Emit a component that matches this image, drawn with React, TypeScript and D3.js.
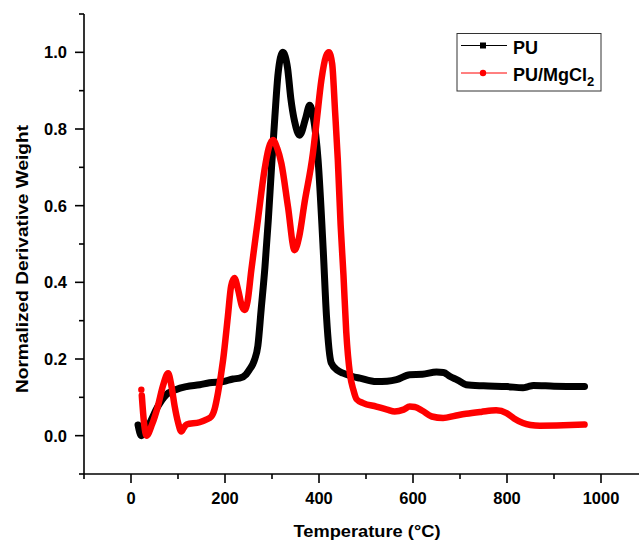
import React from "react";
import * as d3 from "d3";

// PU (black)
const puTemp = [15, 22, 30, 40, 57, 75, 95, 118, 146, 167, 196, 217, 231, 245, 252, 262, 270, 277, 285, 292, 299, 306, 313, 323, 333, 340, 348, 359, 372, 380, 388, 398, 409, 416, 426, 440, 451, 470, 487, 522, 545, 565, 593, 620, 650, 665, 678, 695, 713, 750, 800, 834, 845, 856, 900, 965];
const puValue = [0.028, 0.0, 0.01, 0.033, 0.076, 0.107, 0.12, 0.128, 0.133, 0.138, 0.141, 0.148, 0.15, 0.16, 0.172, 0.195, 0.235, 0.33, 0.44, 0.56, 0.7, 0.83, 0.945, 1.0, 0.96, 0.88, 0.82, 0.784, 0.83, 0.862, 0.83, 0.72, 0.484, 0.31, 0.19, 0.17, 0.163, 0.155, 0.15, 0.141, 0.142, 0.146, 0.159, 0.16, 0.166, 0.165, 0.155, 0.145, 0.133, 0.13, 0.128, 0.125, 0.128, 0.131, 0.129, 0.128];

// PU/MgCl2 (red)
const mgTemp = [22, 23, 28, 33, 45, 57, 68, 79, 86, 93, 100, 107, 112, 118, 146, 160, 171, 178, 185, 196, 206, 213, 220, 228, 236, 242, 248, 256, 270, 284, 293, 302, 311, 320, 334, 348, 358, 369, 387, 395, 405, 415, 421, 428, 434, 440, 446, 452, 458, 466, 473, 480, 494, 522, 545, 561, 580, 593, 604, 620, 640, 664, 690, 713, 745, 777, 799, 815, 834, 850, 870, 920, 965];
const mgValue = [0.12, 0.105, 0.03, 0.0, 0.03, 0.076, 0.13, 0.163, 0.13, 0.076, 0.035, 0.011, 0.02, 0.029, 0.035, 0.042, 0.05, 0.07, 0.111, 0.198, 0.31, 0.39, 0.411, 0.38, 0.338, 0.328, 0.35, 0.432, 0.563, 0.693, 0.75, 0.771, 0.75, 0.71, 0.597, 0.484, 0.52, 0.606, 0.736, 0.82, 0.927, 0.99, 1.0, 0.97, 0.85, 0.72, 0.55, 0.42, 0.27, 0.16, 0.12, 0.095, 0.085, 0.076, 0.068, 0.063, 0.068, 0.076, 0.075, 0.065, 0.05, 0.046, 0.052, 0.057, 0.062, 0.066, 0.059, 0.045, 0.033, 0.028, 0.026, 0.027, 0.029];

const xMajor = [0, 200, 400, 600, 800, 1000];
const xMinor = [-100, 100, 300, 500, 700, 900, 1100];
const yMajor = [0.0, 0.2, 0.4, 0.6, 0.8, 1.0];
const yMinor = [-0.1, 0.1, 0.3, 0.5, 0.7, 0.9, 1.1];

const seriesNames = ["PU", "PU/MgCl"];

const FONT = "'Liberation Sans', Arial, Helvetica, sans-serif";

export default function App() {
  const x = d3.scaleLinear().domain([-100, 1100]).range([84, 648]);
  const y = d3.scaleLinear().domain([-0.1, 1.1]).range([474, 14]);

  const line = d3
    .line<[number, number]>()
    .x((d) => x(d[0]))
    .y((d) => y(d[1]))
    .curve(d3.curveMonotoneX);

  const pu: [number, number][] = puTemp.map((t, i) => [t, puValue[i]]);
  const mg: [number, number][] = mgTemp.map((t, i) => [t, mgValue[i]]);

  return (
    <svg
      width={639}
      height={542}
      style={{ position: "absolute", left: 0, top: 0, background: "#fff" }}
      fontFamily={FONT}
    >
      <rect x={0} y={0} width={639} height={542} fill="#fff" />
      {/* curves */}
      <path d={line(pu) || ""} fill="none" stroke="#000" strokeWidth={7} strokeLinejoin="round" strokeLinecap="round" />
      <path d={line(mg.slice(1)) || ""} fill="none" stroke="#ff0000" strokeWidth={6.5} strokeLinejoin="round" strokeLinecap="round" />
      <circle cx={x(mg[0][0])} cy={y(mg[0][1])} r={3.2} fill="#ff0000" />

      {/* axes */}
      <line x1={84} x2={84} y1={y(1.1)} y2={y(-0.1)} stroke="#000" strokeWidth={1.6} />
      <line x1={84} x2={648} y1={474} y2={474} stroke="#000" strokeWidth={1.6} />
      {yMajor.map((v) => (
        <g key={"ym" + v}>
          <line x1={75} x2={84} y1={y(v)} y2={y(v)} stroke="#000" strokeWidth={1.6} />
          <text x={67} y={y(v)} dy="0.36em" textAnchor="end" fontSize={16.5} fontWeight="bold">
            {v.toFixed(1)}
          </text>
        </g>
      ))}
      {yMinor.map((v) => (
        <line key={"yn" + v} x1={79} x2={84} y1={y(v)} y2={y(v)} stroke="#000" strokeWidth={1.6} />
      ))}
      {xMajor.map((v) => (
        <g key={"xm" + v}>
          <line x1={x(v)} x2={x(v)} y1={474} y2={483} stroke="#000" strokeWidth={1.6} />
          <text x={x(v)} y={504} textAnchor="middle" fontSize={16.5} fontWeight="bold">
            {v}
          </text>
        </g>
      ))}
      {xMinor.map((v) => (
        <line key={"xn" + v} x1={x(v)} x2={x(v)} y1={474} y2={479} stroke="#000" strokeWidth={1.6} />
      ))}

      {/* titles */}
      <text x={367} y={537} textAnchor="middle" fontSize={16.5} fontWeight="bold" textLength={147} lengthAdjust="spacingAndGlyphs">
        Temperature (°C)
      </text>
      <text
        transform="translate(28,259) rotate(-90)"
        textAnchor="middle"
        fontSize={16.5}
        fontWeight="bold"
        textLength={268}
        lengthAdjust="spacingAndGlyphs"
      >
        Normalized Derivative Weight
      </text>

      {/* legend */}
      <rect x={457} y={33.5} width={144} height={57.5} fill="#fff" stroke="#333" strokeWidth={1} />
      <line x1={461} x2={507} y1={45.5} y2={45.5} stroke="#000" strokeWidth={1} />
      <rect x={480} y={42.5} width={6} height={6} fill="#000" />
      <text x={513} y={54} fontSize={18} fontWeight="bold">
        {seriesNames[0]}
      </text>
      <line x1={461} x2={507} y1={73} y2={73} stroke="#ff0000" strokeWidth={1} />
      <circle cx={483} cy={73} r={3.2} fill="#ff0000" />
      <text x={513} y={81} fontSize={18} fontWeight="bold">
        {seriesNames[1]}
        <tspan fontSize={13} dy={5}>2</tspan>
      </text>
    </svg>
  );
}
